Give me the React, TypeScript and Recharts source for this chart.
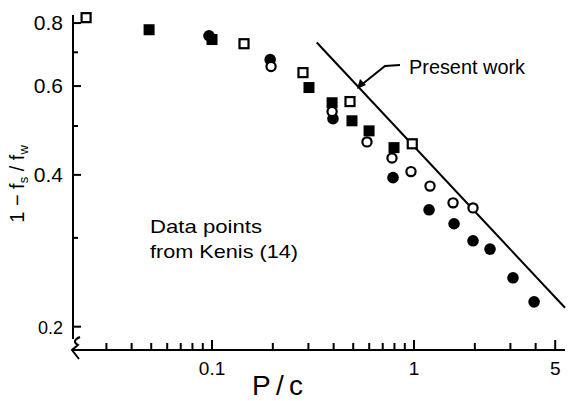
import React from 'react';
import { ScatterChart, Scatter, XAxis, YAxis, ReferenceLine } from 'recharts';

// values (x = P/c, y = 1 - fs/fw)
const openSquares = [
  { x: 0.0238, y: 0.82 },
  { x: 0.144, y: 0.728 },
  { x: 0.282, y: 0.638 },
  { x: 0.482, y: 0.559 },
  { x: 0.98, y: 0.461 },
];

const filledSquares = [
  { x: 0.0488, y: 0.776 },
  { x: 0.1, y: 0.742 },
  { x: 0.302, y: 0.596 },
  { x: 0.393, y: 0.556 },
  { x: 0.493, y: 0.512 },
  { x: 0.599, y: 0.489 },
  { x: 0.796, y: 0.453 },
];

const filledCircles = [
  { x: 0.0966, y: 0.755 },
  { x: 0.194, y: 0.677 },
  { x: 0.397, y: 0.517 },
  { x: 0.787, y: 0.395 },
  { x: 1.187, y: 0.341 },
  { x: 1.578, y: 0.32 },
  { x: 1.959, y: 0.296 },
  { x: 2.378, y: 0.285 },
  { x: 3.09, y: 0.25 },
  { x: 3.93, y: 0.224 },
];

const openCircles = [
  { x: 0.196, y: 0.656 },
  { x: 0.393, y: 0.534 },
  { x: 0.585, y: 0.465 },
  { x: 0.778, y: 0.432 },
  { x: 0.966, y: 0.406 },
  { x: 1.2, y: 0.38 },
  { x: 1.56, y: 0.352 },
  { x: 1.959, y: 0.344 },
];

// "Present work" line end points
const presentWork = [
  { x: 0.33, y: 0.732 },
  { x: 5.59, y: 0.218 },
];

const xTicks = [0.03, 0.04, 0.05, 0.06, 0.07, 0.08, 0.09, 0.1, 0.2, 0.3, 0.4, 0.5, 0.6, 0.7, 0.8, 0.9, 1, 2, 3, 4, 5];
const xLabels: Record<string, string> = { '0.1': '0.1', '1': '1', '5': '5' };
const yTicks = [0.2, 0.3, 0.4, 0.5, 0.6, 0.7, 0.8];
const yLabels: Record<string, string> = { '0.2': '0.2', '0.4': '0.4', '0.6': '0.6', '0.8': '0.8' };

const FONT = '"Liberation Sans", Arial, sans-serif';

const XTick = (props: any) => {
  const { x, y, payload } = props;
  const label = xLabels[String(payload.value)];
  return (
    <g>
      <line x1={x} x2={x} y1={y} y2={y - (label ? 10 : 7)} stroke="#000" strokeWidth={2} />
      {label && (
        <text x={x} y={y + 25} textAnchor="middle" fontSize={19} fontFamily={FONT} fill="#000">
          {label}
        </text>
      )}
    </g>
  );
};

const YTick = (props: any) => {
  const { x, y, payload } = props;
  const label = yLabels[String(payload.value)];
  return (
    <g>
      <line x1={x} x2={x + (label ? 8 : 5)} y1={y} y2={y} stroke="#000" strokeWidth={2} />
      {label && (
        <text x={x - 10} y={y + 7} textAnchor="end" fontSize={payload.value === 0.2 ? 18 : 21} fontFamily={FONT} fill="#000">
          {label}
        </text>
      )}
    </g>
  );
};

const OpenSquare = ({ cx, cy }: any) => (
  <rect x={cx - 4.5} y={cy - 4.5} width={9} height={9} fill="#fff" stroke="#000" strokeWidth={2.2} />
);
const FilledSquare = ({ cx, cy }: any) => (
  <rect x={cx - 5.5} y={cy - 5.5} width={11} height={11} fill="#000" />
);
const FilledCircle = ({ cx, cy }: any) => <circle cx={cx} cy={cy} r={5.8} fill="#000" />;
const OpenCircle = ({ cx, cy }: any) => (
  <circle cx={cx} cy={cy} r={4.6} fill="#fff" stroke="#000" strokeWidth={2.2} />
);

export default function App() {
  return (
    <div style={{ position: 'absolute', left: 0, top: 0, width: 568, height: 401, background: '#fff' }}>
      <ScatterChart width={568} height={401} margin={{ top: 15, right: 3, bottom: 0, left: 0 }}>
        <XAxis
          type="number"
          dataKey="x"
          scale="log"
          domain={[0.0205, 5.59]}
          ticks={xTicks}
          interval={0}
          tickSize={0}
          tickMargin={0}
          tick={<XTick />}
          height={51}
          axisLine={{ stroke: '#000', strokeWidth: 2 }}
        />
        <YAxis
          type="number"
          dataKey="y"
          scale="log"
          domain={[0.1798, 0.83]}
          ticks={yTicks}
          interval={0}
          tickSize={0}
          tickMargin={0}
          tick={<YTick />}
          width={73}
          axisLine={{ stroke: '#000', strokeWidth: 2 }}
        />
        <ReferenceLine segment={presentWork} stroke="#000" strokeWidth={2} ifOverflow="visible" />
        <Scatter data={filledSquares} shape={<FilledSquare />} isAnimationActive={false} />
        <Scatter data={filledCircles} shape={<FilledCircle />} isAnimationActive={false} />
        <Scatter data={openSquares} shape={<OpenSquare />} isAnimationActive={false} />
        <Scatter data={openCircles} shape={<OpenCircle />} isAnimationActive={false} />
      </ScatterChart>
      <svg width={568} height={401} style={{ position: 'absolute', left: 0, top: 0, pointerEvents: 'none' }}>
        <g fontFamily={FONT} fill="#000">
          <text x={409} y={74} fontSize={21} textLength={116} lengthAdjust="spacingAndGlyphs">Present work</text>
          <text x={150} y={233} fontSize={19} textLength={112} lengthAdjust="spacingAndGlyphs">Data  points</text>
          <text x={150} y={258} fontSize={19} textLength={148} lengthAdjust="spacingAndGlyphs">from  Kenis (14)</text>
          <text x={252} y={395} fontSize={28} textLength={51} lengthAdjust="spacing">P/c</text>
          <text transform="translate(24, 184) rotate(-90)" textAnchor="middle" fontSize={20}>
            1 − f<tspan fontSize={13} dy={4}>s</tspan><tspan dy={-4}> / f</tspan><tspan fontSize={13} dy={4}>w</tspan>
          </text>
        </g>
        <path d="M400 65 L385 66 L360 86" fill="none" stroke="#000" strokeWidth={2} />
        <path d="M357 89 L360 79 L366 85 Z" fill="#000" />
        <rect x={70} y={339} width={6} height={10} fill="#fff" />
        <path d="M80 337 Q71 341 78 345 L72 350 L79 359" fill="none" stroke="#000" strokeWidth={2} />
      </svg>
    </div>
  );
}
